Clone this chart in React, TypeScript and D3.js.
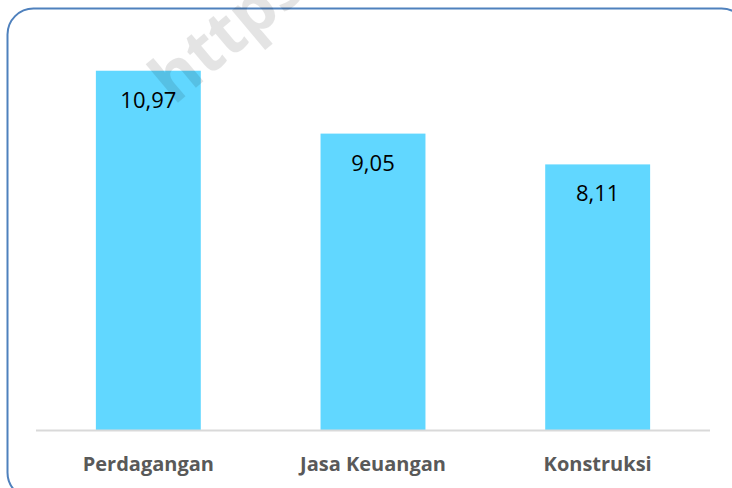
import React from 'react';
import { scaleBand, scaleLinear } from 'd3';

const width = 732;
const height = 488;
const margins = { top: 37, bottom: 58, left: 36, right: 22 };

const categories = ['Perdagangan', 'Jasa Keuangan', 'Konstruksi'];
const values = [10.97, 9.05, 8.11];
const valueLabels = ['10,97', '9,05', '8,11'];

const barColor = '#61d7ff';

export default function App() {
  const xScale = scaleBand()
    .domain(categories)
    .range([margins.left, width - margins.right])
    .paddingInner(0.533)
    .paddingOuter(0.2665);

  const yScale = scaleLinear()
    .domain([0, 12])
    .range([height - margins.bottom, margins.top]);

  const base = yScale(0);

  return (
    <svg
      width={width}
      height={height}
      style={{ position: 'absolute', left: 0, top: 0 }}
    >
      <rect x={0} y={0} width={width} height={height} fill="#ffffff" />
      {/* rounded frame, runs past the right and bottom edges */}
      <rect
        x={7.5}
        y={8.5}
        width={740}
        height={490}
        rx={26}
        ry={26}
        fill="#ffffff"
        stroke="#4f81bd"
        strokeWidth={2}
      />
      {categories.map((c, i) => (
        <g key={c}>
          <rect
            x={xScale(c)}
            y={yScale(values[i])}
            width={xScale.bandwidth()}
            height={base - yScale(values[i])}
            fill={barColor}
          />
          <text
            x={(xScale(c) as number) + xScale.bandwidth() / 2}
            y={yScale(values[i]) + 37}
            textAnchor="middle"
            fontFamily="'Open Sans', 'Noto Sans', sans-serif"
            fontSize={22}
            fill="#000000"
          >
            {valueLabels[i]}
          </text>
          <text
            x={(xScale(c) as number) + xScale.bandwidth() / 2}
            y={base + 41}
            textAnchor="middle"
            fontFamily="'Open Sans', 'Noto Sans', sans-serif"
            fontWeight="bold"
            fontSize={20}
            fill="#595959"
          >
            {c}
          </text>
        </g>
      ))}
      <line
        x1={margins.left}
        x2={width - margins.right}
        y1={base + 0.5}
        y2={base + 0.5}
        stroke="#d9d9d9"
        strokeWidth={2}
      />
      {/* faint watermark, drawn over the bars */}
      <text
        x={174}
        y={106}
        transform="rotate(-40 174 106)"
        fontFamily="'Open Sans', sans-serif"
        fontWeight="bold"
        fontSize={66}
        fill="#000000"
        opacity={0.1}
      >
        https
      </text>
    </svg>
  );
}
